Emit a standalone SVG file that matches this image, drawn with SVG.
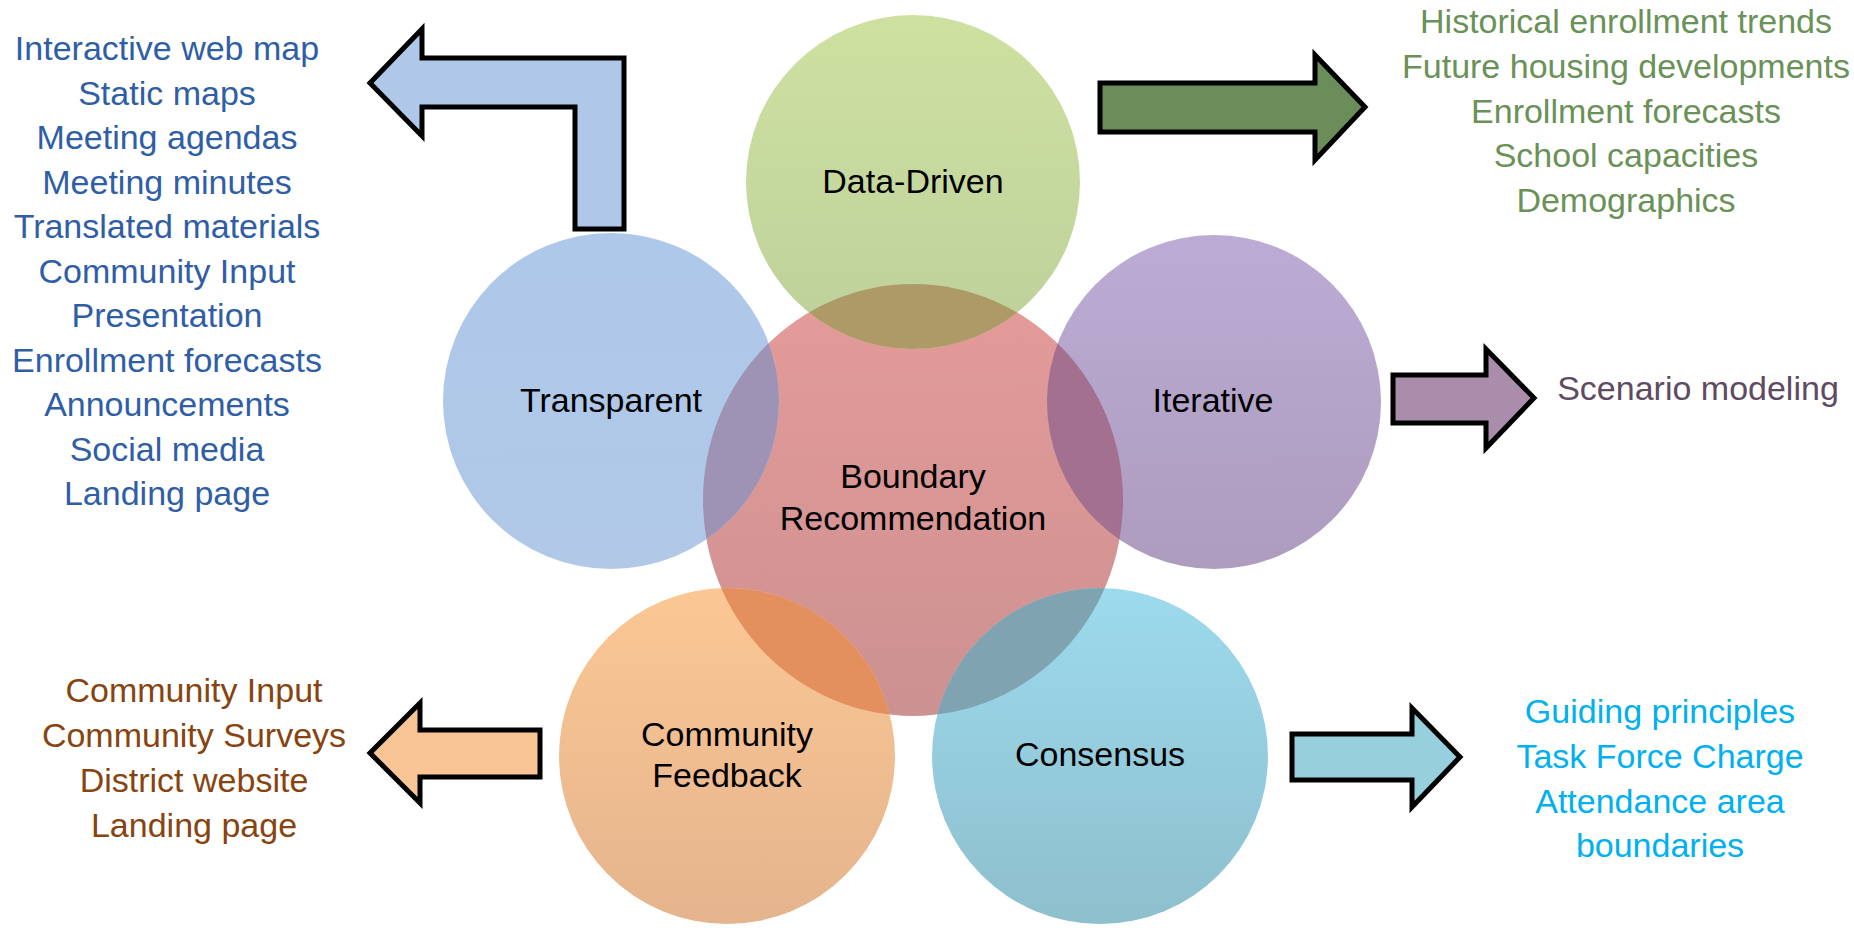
<svg xmlns="http://www.w3.org/2000/svg" width="1854" height="930" viewBox="0 0 1854 930">
<style>
.lbl{font-family:"Liberation Sans",Arial,sans-serif;font-size:34px;fill:#000;text-anchor:middle}
.lst{font-family:"Liberation Sans",Arial,sans-serif;font-size:34px;text-anchor:middle}
.blue{fill:#2f5ea6}.green{fill:#6a9158}.purple{fill:#5f4a63}.brown{fill:#874410}.cyan{fill:#00b0f0}
.arrow{stroke:#000;stroke-width:5;stroke-linejoin:miter}
</style>
<defs>
<linearGradient id="gRed" x1="0" y1="0" x2="0" y2="1"><stop offset="0" stop-color="#e59b99"/><stop offset="1" stop-color="#cc9191"/></linearGradient>
<linearGradient id="gGreen" x1="0" y1="0" x2="0" y2="1"><stop offset="0" stop-color="#cfe1a0"/><stop offset="1" stop-color="#bdd09b"/></linearGradient>
<linearGradient id="gBlue" x1="0" y1="0" x2="0" y2="1"><stop offset="0" stop-color="#aec8ea"/><stop offset="1" stop-color="#b1c8e7"/></linearGradient>
<linearGradient id="gPurple" x1="0" y1="0" x2="0" y2="1"><stop offset="0" stop-color="#bcabd4"/><stop offset="1" stop-color="#ad9cbe"/></linearGradient>
<linearGradient id="gOrange" x1="0" y1="0" x2="0" y2="1"><stop offset="0" stop-color="#fbc794"/><stop offset="1" stop-color="#e4b48d"/></linearGradient>
<linearGradient id="gCyan" x1="0" y1="0" x2="0" y2="1"><stop offset="0" stop-color="#9cdaed"/><stop offset="1" stop-color="#8ebfcd"/></linearGradient>
<clipPath id="clipC"><ellipse cx="913" cy="500" rx="210" ry="216"/></clipPath>
</defs>
<rect width="1854" height="930" fill="#fff"/>

<g id="node-center">
<ellipse cx="913" cy="500" rx="210" ry="216" fill="url(#gRed)"/>
<text class="lbl" x="913" y="488">Boundary</text>
<text class="lbl" x="913" y="530">Recommendation</text>
</g>

<g id="node-data-driven">
<circle cx="913" cy="182" r="167" fill="url(#gGreen)"/>
<circle cx="913" cy="182" r="167" fill="#ad9a67" clip-path="url(#clipC)"/>
<text class="lbl" x="913" y="193">Data-Driven</text>
</g>

<g id="node-transparent">
<circle cx="611" cy="401" r="168" fill="url(#gBlue)"/>
<circle cx="611" cy="401" r="168" fill="#9e93b4" clip-path="url(#clipC)"/>
<text class="lbl" x="611" y="412">Transparent</text>
</g>

<g id="node-iterative">
<circle cx="1214" cy="402" r="167" fill="url(#gPurple)"/>
<circle cx="1214" cy="402" r="167" fill="#a3708f" clip-path="url(#clipC)"/>
<text class="lbl" x="1213" y="412">Iterative</text>
</g>

<g id="node-community-feedback">
<circle cx="727" cy="756" r="168" fill="url(#gOrange)"/>
<circle cx="727" cy="756" r="168" fill="#e38f5e" clip-path="url(#clipC)"/>
<text class="lbl" x="727" y="746">Community</text>
<text class="lbl" x="727" y="787">Feedback</text>
</g>

<g id="node-consensus">
<circle cx="1100" cy="756" r="168" fill="url(#gCyan)"/>
<circle cx="1100" cy="756" r="168" fill="#80a3b2" clip-path="url(#clipC)"/>
<text class="lbl" x="1100" y="766">Consensus</text>
</g>

<g id="connectors">
<polygon class="arrow" fill="#afc7e8" points="370,83 422,29 422,58 624,58 624,229 575,229 575,107 422,107 422,136"/>
<polygon class="arrow" fill="#6b8d59" points="1100,83 1315,83 1315,55 1365,107 1315,160 1315,132 1100,132"/>
<polygon class="arrow" fill="#a98dab" points="1393,375 1486,375 1486,349 1534,398 1486,448 1486,423 1393,423"/>
<polygon class="arrow" fill="#f9c594" points="540,730 420,730 420,703 370,753 420,803 420,777 540,777"/>
<polygon class="arrow" fill="#97cfdd" points="1292,734 1412,734 1412,708 1460,757 1412,807 1412,780 1292,780"/>
</g>

<g id="list-transparent" class="lst blue">
<text x="167" y="60">Interactive web map</text>
<text x="167" y="104.5">Static maps</text>
<text x="167" y="149">Meeting agendas</text>
<text x="167" y="193.5">Meeting minutes</text>
<text x="167" y="238">Translated materials</text>
<text x="167" y="282.5">Community Input</text>
<text x="167" y="327">Presentation</text>
<text x="167" y="371.5">Enrollment forecasts</text>
<text x="167" y="416">Announcements</text>
<text x="167" y="460.5">Social media</text>
<text x="167" y="505">Landing page</text>
</g>

<g id="list-data-driven" class="lst green">
<text x="1626" y="33">Historical enrollment trends</text>
<text x="1626" y="78">Future housing developments</text>
<text x="1626" y="122.5">Enrollment forecasts</text>
<text x="1626" y="167">School capacities</text>
<text x="1626" y="211.5">Demographics</text>
</g>

<g id="list-iterative" class="lst purple">
<text x="1698" y="400">Scenario modeling</text>
</g>

<g id="list-community-feedback" class="lst brown">
<text x="194" y="702">Community Input</text>
<text x="194" y="747">Community Surveys</text>
<text x="194" y="792">District website</text>
<text x="194" y="837">Landing page</text>
</g>

<g id="list-consensus" class="lst cyan">
<text x="1660" y="723">Guiding principles</text>
<text x="1660" y="768">Task Force Charge</text>
<text x="1660" y="813">Attendance area</text>
<text x="1660" y="857">boundaries</text>
</g>
</svg>
